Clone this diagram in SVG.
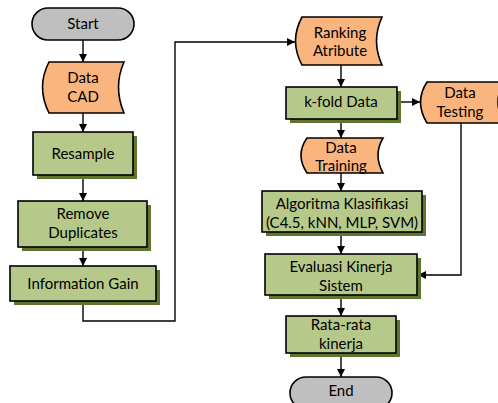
<svg xmlns="http://www.w3.org/2000/svg" width="498" height="403" viewBox="0 0 498 403">
<defs>
<marker id="ah" viewBox="0 0 10 10" refX="10" refY="5" markerWidth="8" markerHeight="8" markerUnits="userSpaceOnUse" orient="auto">
<path d="M0,0 L10,5 L0,10 Z" fill="#000"/>
</marker>
<style>
.term{fill:#BFBFBF;stroke:#000;stroke-width:1.6}
.data{fill:#F9B57D;stroke:#000;stroke-width:1.6}
.proc{fill:#B6C98A;stroke:#000;stroke-width:1.6}
.shd{fill:#5F7530}
.conn{fill:none;stroke:#000;stroke-width:1.4}
text{font-family:Lato,"Liberation Sans",Arial,sans-serif;font-size:15px;fill:#000;text-anchor:middle}
</style>
</defs>
<rect width="498" height="403" fill="#fff"/>
<g id="connectors">
<line class="conn" x1="83" y1="40" x2="83" y2="62" marker-end="url(#ah)"/>
<line class="conn" x1="83" y1="113" x2="83" y2="132" marker-end="url(#ah)"/>
<line class="conn" x1="83" y1="175" x2="83" y2="201" marker-end="url(#ah)"/>
<line class="conn" x1="83" y1="247" x2="83" y2="266" marker-end="url(#ah)"/>
<polyline class="conn" points="83,301 83,321 175,321 175,42 295,42" marker-end="url(#ah)"/>
<line class="conn" x1="341" y1="65" x2="341" y2="87" marker-end="url(#ah)"/>
<line class="conn" x1="397" y1="102" x2="420" y2="102" marker-end="url(#ah)"/>
<line class="conn" x1="341" y1="119" x2="341" y2="138" marker-end="url(#ah)"/>
<line class="conn" x1="341" y1="173" x2="341" y2="191" marker-end="url(#ah)"/>
<line class="conn" x1="341" y1="232" x2="341" y2="254" marker-end="url(#ah)"/>
<polyline class="conn" points="461,123 461,275 418,275" marker-end="url(#ah)"/>
<line class="conn" x1="341" y1="295" x2="341" y2="316" marker-end="url(#ah)"/>
<line class="conn" x1="341" y1="353" x2="341" y2="377" marker-end="url(#ah)"/>
</g>
<g id="start">
<rect class="term" x="32" y="8" width="102" height="32" rx="16"/>
<text x="83" y="29">Start</text>
</g>
<g id="data-cad">
<path class="data" d="M49,62 L124,62 Q113,87 124,113 L49,113 Q36,87 49,62 Z"/>
<text x="83" y="83">Data</text>
<text x="83" y="102">CAD</text>
</g>
<g id="resample">
<rect class="shd" x="37" y="136" width="100" height="43"/>
<rect class="proc" x="33" y="132" width="100" height="43"/>
<text x="83" y="159">Resample</text>
</g>
<g id="remove-duplicates">
<rect class="shd" x="22" y="205" width="129" height="46"/>
<rect class="proc" x="18" y="201" width="129" height="46"/>
<text x="83" y="219">Remove</text>
<text x="83" y="238">Duplicates</text>
</g>
<g id="information-gain">
<rect class="shd" x="14" y="270" width="146" height="35"/>
<rect class="proc" x="10" y="266" width="146" height="35"/>
<text x="83" y="289">Information Gain</text>
</g>
<g id="ranking-atribute">
<path class="data" d="M302,17 L382,17 Q371,41 382,65 L302,65 Q289,41 302,17 Z"/>
<text x="340" y="38">Ranking</text>
<text x="340" y="56">Atribute</text>
</g>
<g id="kfold-data">
<rect class="shd" x="290" y="91" width="111" height="32"/>
<rect class="proc" x="286" y="87" width="111" height="32"/>
<text x="341" y="107">k-fold Data</text>
</g>
<g id="data-testing">
<path class="data" d="M427,82 L504,82 Q492,102 504,123 L427,123 Q414,102 427,82 Z"/>
<text x="460" y="98">Data</text>
<text x="460" y="117">Testing</text>
</g>
<g id="data-training">
<path class="data" d="M307,138 L383,138 Q373,155 383,173 L307,173 Q295,155 307,138 Z"/>
<text x="341" y="153">Data</text>
<text x="341" y="171">Training</text>
</g>
<g id="algoritma">
<rect class="shd" x="266" y="195" width="160" height="41"/>
<rect class="proc" x="262" y="191" width="160" height="41"/>
<text x="342" y="209">Algoritma Klasifikasi</text>
<text x="342" y="228">(C4.5, kNN, MLP, SVM)</text>
</g>
<g id="evaluasi">
<rect class="shd" x="269" y="258" width="152" height="41"/>
<rect class="proc" x="265" y="254" width="152" height="41"/>
<text x="341" y="272">Evaluasi Kinerja</text>
<text x="341" y="291">Sistem</text>
</g>
<g id="rata-rata">
<rect class="shd" x="290" y="320" width="110" height="37"/>
<rect class="proc" x="286" y="316" width="110" height="37"/>
<text x="341" y="330">Rata-rata</text>
<text x="341" y="349">kinerja</text>
</g>
<g id="end">
<rect class="term" x="290" y="377" width="102" height="32" rx="16"/>
<text x="341" y="396">End</text>
</g>
</svg>
